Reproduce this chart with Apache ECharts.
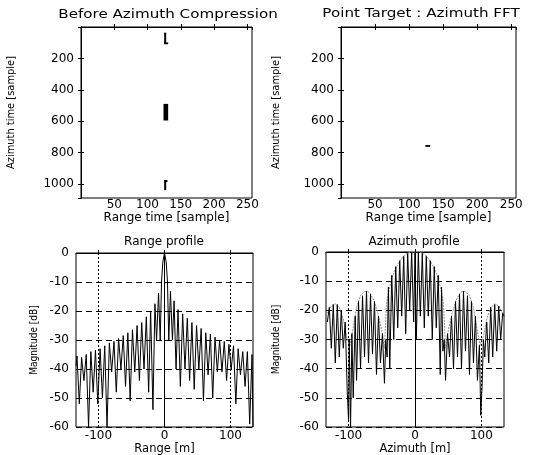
<!DOCTYPE html>
<html>
<head>
<meta charset="utf-8">
<title>Point target</title>
<script src="https://cdn.jsdelivr.net/npm/echarts@6/dist/echarts.min.js"></script>
<style>
html, body { margin: 0; padding: 0; background: #fff; }
#chart { width: 535px; height: 455px; }
</style>
</head>
<body>
<div id="chart"></div>
<script>
// blocks of signal energy: [range start, range end, azimuth start, azimuth end] in samples
const rawBlocks = [
  [125, 128, 36, 106], [125, 131, 98, 110],
  [124, 131, 490, 596],
  [125, 128, 976, 1040], [125, 130, 976, 988]
]
const fftBlocks = [[124, 131, 752, 764]]

const rangeM = [-134, -132.5, -129, -125.5, -122, -118.5, -115, -111.5, -108, -104.5, -101, -97.5, -94, -90.5, -87, -83.5, -80, -76.5, -73, -69.5, -66, -62.5, -59, -55.5, -52, -48.5, -45, -41.5, -38, -34.5, -31, -27.5, -24, -21, -17.5, -14.5, -12, -9, -6.5, -4.5, -2.5, 0, 2.5, 4.5, 6.5, 9, 12, 14.5, 17.5, 20.5, 24, 27.5, 31, 34.5, 38, 41.5, 45, 48.5, 52, 55.5, 59, 62.5, 66, 69.5, 73, 76.5, 80, 83.5, 87, 90.5, 94, 97.5, 101, 104.5, 108, 111.5, 115, 118.5, 122, 125.5, 129, 132.5, 134]
const rangeDb = [-39, -35.5, -52, -36, -44, -35, -60, -34, -48, -33.5, -52, -33, -50, -32, -60, -31, -41, -30.5, -48, -29.5, -40, -28.5, -46, -27.5, -51, -26.5, -41, -25, -44, -24, -40, -22, -48, -20, -54, -17.5, -30, -13.8, -30, -10, -3, 0, -3, -10, -30, -13.2, -30, -16.5, -40, -19.5, -46, -21, -40, -22.5, -44, -24, -47, -25, -40, -26, -51, -27.5, -42, -28, -50, -29, -41, -30, -41, -30.5, -44, -31.5, -40, -32, -52, -33, -42, -34, -46, -34, -59, -35, -60]

const azimuthM = [-132, -129, -126, -123, -120, -117, -114, -111, -108, -105, -102, -100, -99, -97, -95, -93, -90, -88, -85, -82, -79, -76, -73, -70, -67, -64, -61, -58, -55, -52, -49, -46, -44, -42, -40, -38, -35, -32, -29, -26, -23, -20, -17, -14, -11, -8, -5, -2, 0, 2, 5, 8, 11, 14, 17, 20, 23, 26, 29, 32, 35, 38, 40, 42, 44, 46, 49, 52, 55, 58, 61, 64, 67, 70, 73, 76, 79, 82, 85, 88, 91, 94, 97, 99, 101, 103, 105, 108, 111, 114, 117, 120, 123, 126, 129, 132, 134]
const azimuthDb = [-24, -19, -33, -18, -38, -18, -36, -20, -33, -24, -48, -58, -30, -60, -28, -50, -22, -44, -17, -40, -15, -36, -13.5, -38, -14.5, -35, -17, -42, -22, -38, -28, -45, -30, -36, -12, -40, -8, -30, -5, -26, -3, -22, -1.5, -28, -0.5, -20, 0, -24, -0.2, -30, 0, -22, -0.5, -26, -1.5, -22, -3, -30, -5, -26, -8, -42, -12, -34, -30, -44, -28, -36, -22, -40, -17, -36, -14.5, -40, -13.5, -34, -15, -42, -17, -38, -22, -44, -32, -56, -46, -30, -36, -24, -38, -19, -36, -18, -34, -18.5, -30, -21, -22]

// lobe envelope (thin grey)
const envM = [-132, -126, -120, -114, -108, -103, -98, -93, -88, -82, -76, -72, -68, -62, -56, -50, -46, -43, -40, -35, -30, -24, -18, -12, -6, 0, 6, 12, 18, 24, 30, 35, 40, 43, 46, 50, 56, 62, 68, 72, 76, 82, 88, 93, 98, 103, 108, 114, 120, 126, 132, 134]
const envDb = [-21, -18.5, -17.8, -19, -23, -29, -32, -26, -19, -15, -13.6, -13.5, -14, -16.5, -21, -27, -33, -18, -14, -9, -6, -3.5, -1.5, -0.5, 0, 0, 0, -0.5, -1.5, -3.5, -6, -9, -14, -18, -33, -27, -21, -16.5, -14, -13.5, -13.6, -15, -19, -26, -32, -29, -23, -19, -17.8, -18.5, -21, -22]

const metreTicks = [-100, 0, 100]

const font = 'DejaVu Sans'
const narrow = "'Liberation Sans Narrow', 'DejaVu Sans Condensed', 'Liberation Sans'"

function pairs (xs, ys) {
  return xs.map((x, i) => [x, ys[i]])
}

function renderBlock (params, api) {
  const p0 = api.coord([api.value(0), api.value(2)])
  const p1 = api.coord([api.value(1), api.value(3)])
  return {
    type: 'rect',
    shape: {
      x: Math.min(p0[0], p1[0]),
      y: Math.min(p0[1], p1[1]),
      width: Math.abs(p1[0] - p0[0]),
      height: Math.abs(p1[1] - p0[1])
    },
    style: { fill: '#000' }
  }
}

const plain = v => String(v)
const lbl = { color: '#000', fontFamily: font, fontSize: 12, lineHeight: 12, formatter: plain }
const tick = { show: true, inside: true, length: 3, lineStyle: { color: '#000' } }
const line = { show: true, lineStyle: { color: '#000', width: 1 } }

function sampleX (grid, top) {
  return {
    type: 'value', gridIndex: grid, position: top ? 'top' : 'bottom',
    min: 0, max: 257, interval: 50,
    name: top ? '' : 'Range time [sample]',
    nameLocation: 'middle', nameGap: 12,
    nameTextStyle: { color: '#000', fontFamily: font, fontSize: 12, lineHeight: 12, verticalAlign: 'top' },
    axisLine: line, axisTick: tick,
    axisLabel: Object.assign({ show: !top, margin: 1, showMinLabel: false, showMaxLabel: false }, lbl),
    splitLine: { show: false }
  }
}

function sampleY (grid, right, gap) {
  return {
    type: 'value', gridIndex: grid, position: right ? 'right' : 'left', inverse: true,
    min: 0, max: 1090, interval: 200,
    name: right ? '' : 'Azimuth time [sample]',
    nameLocation: 'middle', nameGap: gap,
    nameTextStyle: { color: '#000', fontFamily: narrow, fontSize: 11 },
    axisLine: line, axisTick: tick,
    axisLabel: Object.assign({ show: !right, margin: 7, showMinLabel: false, showMaxLabel: false }, lbl),
    splitLine: { show: false }
  }
}

function metreX (grid, name) {
  return {
    type: 'value', gridIndex: grid, min: -134, max: 134,
    name: name, nameLocation: 'middle', nameGap: 15,
    nameTextStyle: { color: '#000', fontFamily: font, fontSize: 11.5, lineHeight: 11, verticalAlign: 'top' },
    axisLine: line,
    axisTick: Object.assign({ customValues: metreTicks }, tick),
    axisLabel: Object.assign({ customValues: metreTicks, margin: 4 }, lbl, { lineHeight: 10 }),
    splitLine: { show: true, lineStyle: { color: '#000', width: 1, type: [2, 2] } }
  }
}

function dbY (grid, gap) {
  return {
    type: 'value', gridIndex: grid, min: -60, max: 0, interval: 10,
    name: 'Magnitude [dB]', nameLocation: 'middle', nameGap: gap,
    nameTextStyle: { color: '#000', fontFamily: narrow, fontSize: 10 },
    axisLine: line, axisTick: tick,
    axisLabel: Object.assign({ margin: 7 }, lbl),
    splitLine: { show: true, lineStyle: { color: '#000', width: 1, type: [6, 4] } }
  }
}

// titles: wide lettering, stretched horizontally around their centre
function title (text, x, y, size, stretch) {
  return {
    type: 'text', x: x, y: y, scaleX: stretch,
    style: { text: text, fill: '#000', fontFamily: font, fontSize: size, textAlign: 'center', textVerticalAlign: 'middle' }
  }
}

const gridBox = { show: true, borderColor: '#000', borderWidth: 1, backgroundColor: 'transparent', outerBoundsMode: 'none' }

const chart = echarts.init(document.getElementById('chart'))
chart.setOption({
  animation: false,
  backgroundColor: '#fff',
  graphic: [
    title('Before Azimuth Compression', 168, 15, 12, 1.26),
    title('Point Target : Azimuth FFT', 421, 14, 12, 1.26),
    title('Range profile', 164, 242, 12, 1.0),
    title('Azimuth profile', 414, 242, 12, 1.0)
  ],
  grid: [
    Object.assign({ left: 81, top: 27, width: 171, height: 171 }, gridBox),
    Object.assign({ left: 341, top: 27, width: 175, height: 171 }, gridBox),
    Object.assign({ left: 76, top: 253, width: 177, height: 174 }, gridBox),
    Object.assign({ left: 326, top: 252, width: 178, height: 175 }, gridBox)
  ],
  xAxis: [
    sampleX(0, false), sampleX(0, true),
    sampleX(1, false), sampleX(1, true),
    metreX(2, 'Range [m]'),
    metreX(3, 'Azimuth [m]')
  ],
  yAxis: [
    sampleY(0, false, 64), sampleY(0, true, 0),
    sampleY(1, false, 59), sampleY(1, true, 0),
    dbY(2, 37),
    dbY(3, 45)
  ],
  series: [
    {
      type: 'custom', xAxisIndex: 0, yAxisIndex: 0,
      renderItem: renderBlock, encode: { x: [0, 1], y: [2, 3] }, data: rawBlocks
    },
    {
      type: 'custom', xAxisIndex: 2, yAxisIndex: 2,
      renderItem: renderBlock, encode: { x: [0, 1], y: [2, 3] }, data: fftBlocks
    },
    {
      type: 'line', xAxisIndex: 4, yAxisIndex: 4, showSymbol: false, clip: true,
      lineStyle: { color: '#000', width: 1 }, data: pairs(rangeM, rangeDb)
    },
    {
      type: 'line', xAxisIndex: 5, yAxisIndex: 5, showSymbol: false, clip: true,
      lineStyle: { color: '#8c8c8c', width: 1, type: [2, 1] }, data: pairs(envM, envDb)
    },
    {
      type: 'line', xAxisIndex: 5, yAxisIndex: 5, showSymbol: false, clip: true,
      lineStyle: { color: '#000', width: 1 }, data: pairs(azimuthM, azimuthDb)
    }
  ]
})
</script>
</body>
</html>
